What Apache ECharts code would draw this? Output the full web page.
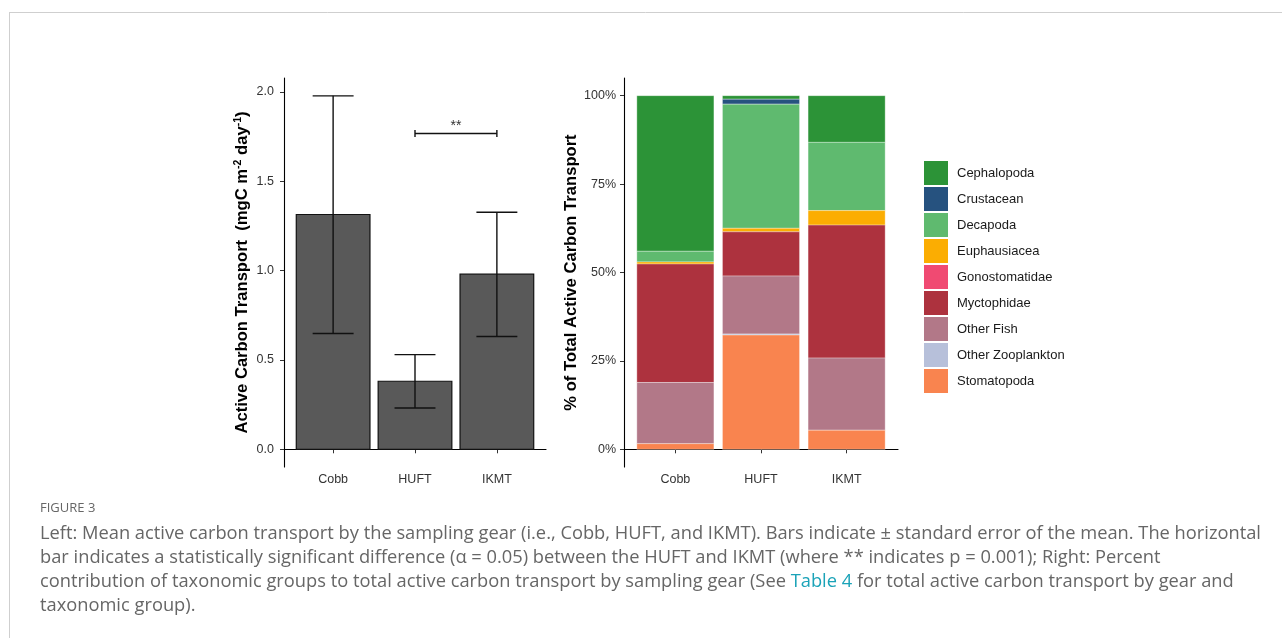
<!DOCTYPE html>
<html>
<head>
<meta charset="utf-8">
<title>Figure 3 – Active carbon transport by sampling gear</title>
<script src="https://cdn.jsdelivr.net/npm/echarts@6/dist/echarts.min.js"></script>
<style>
  html, body { margin: 0; padding: 0; background: #fff; }
  #chart { width: 1282px; height: 638px; }
</style>
</head>
<body>
<div id="chart"></div>
<script>
// Sampling gears (x categories, shared by both panels)
const gears = ['Cobb', 'HUFT', 'IKMT'];

// Left panel: mean active carbon transport (mgC m^-2 day^-1) and the SE bounds
const meanTransport = [1.314, 0.381, 0.980];
const seLower = [0.648, 0.231, 0.631];
const seUpper = [1.978, 0.530, 1.327];
const leftTicks = [0, 0.5, 1.0, 1.5, 2.0];

// Significance bracket between HUFT and IKMT
const sigPair = ['HUFT', 'IKMT'];
const sigLevel = 1.767;
const sigLabel = '**';

// Right panel: percent contribution of each taxonomic group, per gear (Cobb, HUFT, IKMT)
const taxa = ['Cephalopoda', 'Crustacean', 'Decapoda', 'Euphausiacea', 'Gonostomatidae',
              'Myctophidae', 'Other Fish', 'Other Zooplankton', 'Stomatopoda'];
const cephalopoda     = [44.0, 1.0, 13.2];
const crustacean      = [0.0, 1.4, 0.0];
const decapoda        = [3.0, 35.1, 19.3];
const euphausiacea    = [0.6, 1.0, 4.1];
const gonostomatidae  = [0.0, 0.0, 0.0];
const myctophidae     = [33.5, 12.5, 37.6];
const otherFish       = [17.3, 16.4, 20.4];
const otherZooplankton = [0.0, 0.3, 0.0];
const stomatopoda     = [1.6, 32.3, 5.4];
const rightTicks = [0, 25, 50, 75, 100];

const taxaValues = [cephalopoda, crustacean, decapoda, euphausiacea, gonostomatidae,
                    myctophidae, otherFish, otherZooplankton, stomatopoda];
const taxaColors = ['#2c9337', '#26527f', '#5fba6f', '#fbad02', '#f04a72',
                    '#ad323e', '#b27888', '#b7c0da', '#f9844f'];

const FONT = '"Liberation Sans", Arial, Helvetica, sans-serif';
const CAPTION_FONT = '18.3px "Open Sans", Lato, sans-serif';
const BAR_W = 0.9;

// ---- left panel series ----
const meanBars = {
  type: 'custom', xAxisIndex: 0, yAxisIndex: 0, silent: true,
  data: meanTransport.map((v, i) => [i + 1, v]),
  renderItem(params, api) {
    const x = api.value(0), v = api.value(1);
    const p0 = api.coord([x - BAR_W / 2, v]);
    const p1 = api.coord([x + BAR_W / 2, 0]);
    return {
      type: 'rect',
      shape: { x: p0[0], y: p0[1], width: p1[0] - p0[0], height: p1[1] - p0[1] },
      style: { fill: '#595959', stroke: '#111', lineWidth: 1.2 }
    };
  }
};

const errorBars = {
  type: 'custom', xAxisIndex: 0, yAxisIndex: 0, silent: true, z: 5,
  data: gears.map((g, i) => [i + 1, seLower[i], seUpper[i]]),
  renderItem(params, api) {
    const x = api.value(0);
    const lo = api.coord([x, api.value(1)]);
    const hi = api.coord([x, api.value(2)]);
    const half = api.size([0.25, 0])[0];
    const st = { stroke: '#111', lineWidth: 1.4 };
    return {
      type: 'group',
      children: [
        { type: 'line', shape: { x1: lo[0], y1: lo[1], x2: hi[0], y2: hi[1] }, style: st },
        { type: 'line', shape: { x1: hi[0] - half, y1: hi[1], x2: hi[0] + half, y2: hi[1] }, style: st },
        { type: 'line', shape: { x1: lo[0] - half, y1: lo[1], x2: lo[0] + half, y2: lo[1] }, style: st }
      ]
    };
  }
};

const sigBracket = {
  type: 'custom', xAxisIndex: 0, yAxisIndex: 0, silent: true, z: 6,
  data: [[gears.indexOf(sigPair[0]) + 1, gears.indexOf(sigPair[1]) + 1, sigLevel]],
  renderItem(params, api) {
    const a = api.coord([api.value(0), api.value(2)]);
    const b = api.coord([api.value(1), api.value(2)]);
    const st = { stroke: '#111', lineWidth: 1.4 };
    return {
      type: 'group',
      children: [
        { type: 'line', shape: { x1: a[0], y1: a[1], x2: b[0], y2: b[1] }, style: st },
        { type: 'line', shape: { x1: a[0], y1: a[1] - 3.5, x2: a[0], y2: a[1] + 3.5 }, style: st },
        { type: 'line', shape: { x1: b[0], y1: b[1] - 3.5, x2: b[0], y2: b[1] + 3.5 }, style: st },
        { type: 'text', style: { text: sigLabel, x: (a[0] + b[0]) / 2, y: a[1],
            align: 'center', verticalAlign: 'bottom', fill: '#333', font: '14px ' + FONT } }
      ]
    };
  }
};

// ---- right panel: stacked shares (first taxon on top, last at the bottom) ----
const stackOrder = taxa.map((t, i) => i).reverse();
const cumulative = gears.map(() => 0);
const bottoms = [];
stackOrder.forEach(ti => {
  bottoms[ti] = gears.map((g, gi) => cumulative[gi]);
  gears.forEach((g, gi) => { cumulative[gi] += taxaValues[ti][gi]; });
});

const shareSeries = taxa.map((name, ti) => ({
  name,
  type: 'custom', xAxisIndex: 1, yAxisIndex: 1, silent: true,
  itemStyle: { color: taxaColors[ti] },
  data: gears.map((g, gi) => [gi + 1, bottoms[ti][gi], bottoms[ti][gi] + taxaValues[ti][gi]]),
  renderItem(params, api) {
    const x = api.value(0), y0 = api.value(1), y1 = api.value(2);
    if (y1 - y0 <= 0) return null;
    const p0 = api.coord([x - BAR_W / 2, y1]);
    const p1 = api.coord([x + BAR_W / 2, y0]);
    return {
      type: 'rect',
      shape: { x: p0[0], y: p0[1], width: p1[0] - p0[0], height: p1[1] - p0[1] },
      style: { fill: taxaColors[ti], stroke: 'rgba(255,255,255,0.55)', lineWidth: 0.6 }
    };
  }
}));

const axisLine = { show: true, lineStyle: { color: '#000', width: 1.1 } };
const axisTick = { show: true, length: 4, lineStyle: { color: '#333', width: 1 } };
const tickText = { color: '#333', fontSize: 12.5, fontFamily: FONT };

const xAxisFor = (gridIndex) => ({
  type: 'value', gridIndex, min: 0.4, max: 3.6,
  axisLine, splitLine: { show: false },
  axisTick: Object.assign({ customValues: gears.map((g, i) => i + 1) }, axisTick),
  axisLabel: Object.assign({ customValues: gears.map((g, i) => i + 1), margin: 6,
    formatter: v => gears[Math.round(v) - 1] || '' }, tickText)
});

const option = {
  backgroundColor: '#fff',
  animation: false,
  grid: [
    { left: 284, top: 78, width: 262, height: 389 },
    { left: 624, top: 78, width: 274, height: 389 }
  ],
  xAxis: [xAxisFor(0), xAxisFor(1)],
  yAxis: [
    {
      type: 'value', gridIndex: 0, min: -0.099, max: 2.078,
      axisLine, splitLine: { show: false },
      axisTick: Object.assign({ customValues: leftTicks }, axisTick),
      axisLabel: Object.assign({ customValues: leftTicks, margin: 10,
        formatter: v => v.toFixed(1) }, tickText),
      name: 'Active Carbon Transport  (mgC m{s|-2} day{s|-1})',
      nameLocation: 'middle', nameRotate: 90, nameGap: 31,
      nameTextStyle: {
        fontSize: 16.6, fontWeight: 'bold', color: '#000', fontFamily: FONT, lineHeight: 20,
        rich: { s: { fontSize: 10.5, fontWeight: 'bold', color: '#000', fontFamily: FONT,
                     verticalAlign: 'top', lineHeight: 20 } }
      }
    },
    {
      type: 'value', gridIndex: 1, min: -5, max: 105,
      axisLine, splitLine: { show: false },
      axisTick: Object.assign({ customValues: rightTicks }, axisTick),
      axisLabel: Object.assign({ customValues: rightTicks, margin: 8,
        formatter: v => v + '%' }, tickText),
      name: '% of Total Active Carbon Transport',
      nameLocation: 'middle', nameRotate: 90, nameGap: 44,
      nameTextStyle: { fontSize: 16.6, fontWeight: 'bold', color: '#000', fontFamily: FONT }
    }
  ],
  legend: {
    orient: 'vertical', left: 924, top: 161, padding: 0,
    data: taxa.map((t, i) => ({ name: t, itemStyle: { color: taxaColors[i] } })),
    icon: 'rect', itemWidth: 24, itemHeight: 24, itemGap: 2,
    selectedMode: false,
    textStyle: { fontSize: 13, color: '#1a1a1a', fontFamily: FONT, padding: [0, 0, 0, 4] }
  },
  series: [meanBars, errorBars, sigBracket].concat(shareSeries),
  graphic: [
    { type: 'line', shape: { x1: 9, y1: 12.5, x2: 1282, y2: 12.5 }, style: { stroke: '#cfcfcf', lineWidth: 1 }, silent: true },
    { type: 'line', shape: { x1: 9.5, y1: 12, x2: 9.5, y2: 638 }, style: { stroke: '#cfcfcf', lineWidth: 1 }, silent: true },
    { type: 'text', left: 40, top: 502, silent: true,
      style: { text: 'FIGURE 3', fill: '#666', font: '13px "Open Sans", Lato, sans-serif' } },
    { type: 'text', left: 40, top: 525, silent: true,
      style: { text: 'Left: Mean active carbon transport by the sampling gear (i.e., Cobb, HUFT, and IKMT). Bars indicate ± standard error of the mean. The horizontal',
        fill: '#666', font: CAPTION_FONT } },
    { type: 'text', left: 40, top: 549, silent: true,
      style: { text: 'bar indicates a statistically significant difference (α = 0.05) between the HUFT and IKMT (where ** indicates p = 0.001); Right: Percent',
        fill: '#666', font: CAPTION_FONT } },
    { type: 'text', left: 40, top: 573, silent: true,
      style: { text: '{n|contribution of taxonomic groups to total active carbon transport by sampling gear (See }{l|Table 4}{n| for total active carbon transport by gear and}',
        rich: {
          n: { fill: '#666', font: CAPTION_FONT },
          l: { fill: '#1ba3b8', font: CAPTION_FONT }
        } } },
    { type: 'text', left: 40, top: 597, silent: true,
      style: { text: 'taxonomic group).', fill: '#666', font: CAPTION_FONT } }
  ]
};

const chart = echarts.init(document.getElementById('chart'), null, { renderer: 'canvas' });
chart.setOption(option);
</script>
</body>
</html>
